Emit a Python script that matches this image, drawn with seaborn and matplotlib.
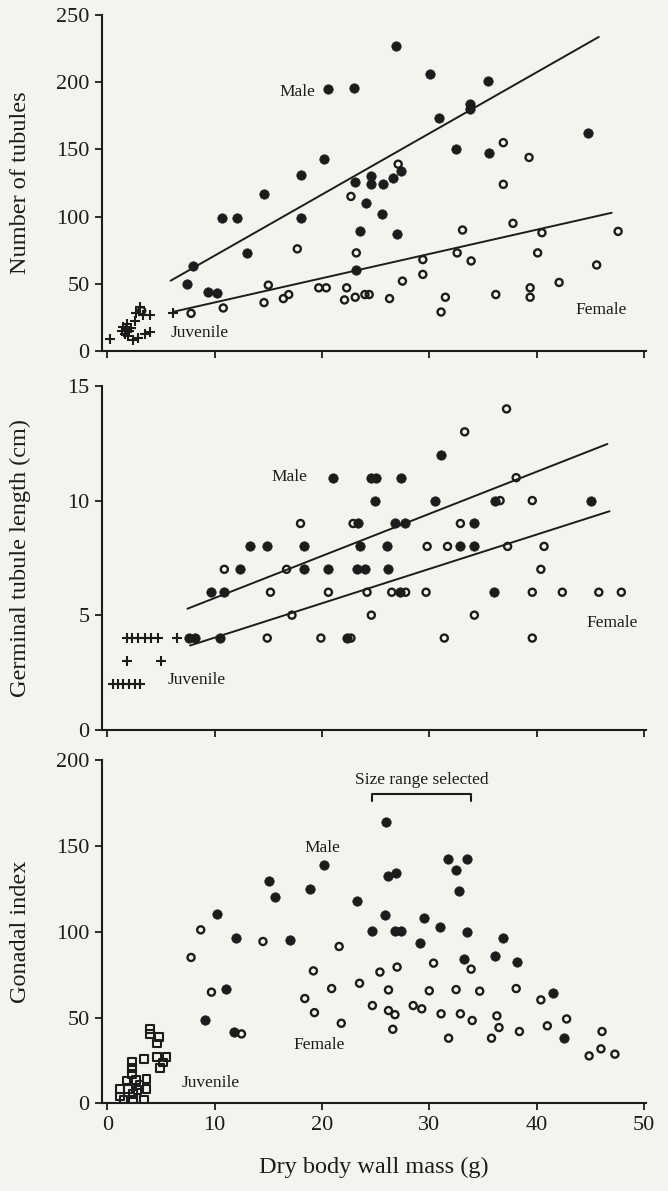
import numpy as np
import pandas as pd
import matplotlib
matplotlib.use("Agg")
import matplotlib.pyplot as plt
import seaborn as sns

# ---------------- data ----------------
# Panel A: number of tubules
tub_male_x = [20.6, 23.0, 20.2, 18.0, 14.6, 10.7, 12.1, 18.0, 13.0, 8.0, 7.4, 9.4, 10.2, 23.1, 24.6, 24.6,
              25.7, 24.1, 25.6, 23.5, 23.2, 26.9, 30.1, 35.5, 33.8, 33.8, 30.9, 32.5, 35.6, 44.8, 26.6, 27.4, 27.0]
tub_male_y = [195, 196, 143, 131, 117, 99, 99, 99, 73, 63, 50, 44, 43, 126, 130, 124,
              124, 110, 102, 89, 60, 227, 206, 201, 184, 180, 173, 150, 147, 162, 129, 134, 87]
tub_fem_x = [27.1, 36.9, 39.3, 36.9, 22.7, 37.8, 33.1, 40.5, 47.6, 23.2, 29.4, 32.6, 33.9, 40.1, 45.6, 29.4,
             27.5, 42.1, 22.3, 22.1, 23.1, 24.0, 24.4, 26.3, 31.5, 31.1, 36.2, 39.4, 39.4, 17.7, 15.0, 14.6,
             16.4, 16.9, 19.7, 20.4, 10.8, 7.8, 3.2]
tub_fem_y = [139, 155, 144, 124, 115, 95, 90, 88, 89, 73, 68, 73, 67, 73, 64, 57,
             52, 51, 47, 38, 40, 42, 42, 39, 40, 29, 42, 47, 40, 76, 49, 36,
             39, 42, 47, 47, 32, 28, 30]
tub_juv_x = [0.25, 1.5, 1.8, 2.0, 1.6, 1.9, 2.2, 1.7, 1.4, 3.0, 2.7, 3.3, 3.95, 2.54, 3.5, 3.95, 2.9, 2.4, 6.1]
tub_juv_y = [9, 18, 20, 15, 13, 11, 17, 16, 15, 33, 28, 27, 27, 22, 13, 14, 10, 8, 28.5]
tub_fit_slope = [4.546, 1.803]        # male, female
tub_fit_icpt = [25.5, 18.1]
tub_fit_xmin = [5.9, 6.15]
tub_fit_xmax = [45.8, 47.0]

# Panel B: germinal tubule length
len_male_x = [21.0, 24.6, 25.0, 24.9, 13.3, 14.9, 18.3, 23.5, 12.4, 18.3, 20.6, 23.3, 24.0, 9.7, 10.9, 7.6,
              8.2, 10.5, 31.1, 27.4, 30.5, 36.1, 45.1, 23.4, 26.8, 27.7, 34.2, 26.1, 32.9, 34.2, 26.2, 27.3,
              36.0, 22.3]
len_male_y = [11, 11, 11, 10, 8, 8, 8, 8, 7, 7, 7, 7, 7, 6, 6, 4,
              4, 4, 12, 11, 10, 10, 10, 9, 9, 9, 9, 8, 8, 8, 7, 6,
              6, 4]
len_fem_x = [18.0, 22.9, 10.9, 16.7, 15.2, 20.6, 24.2, 24.6, 17.2, 14.9, 19.9, 22.7, 37.2, 33.3, 38.1, 36.6,
             39.6, 32.9, 29.8, 31.7, 37.3, 40.7, 40.4, 26.5, 27.8, 29.7, 39.6, 42.4, 45.8, 47.9, 34.2, 31.4,
             39.6]
len_fem_y = [9, 9, 7, 7, 6, 6, 6, 5, 5, 4, 4, 4, 14, 13, 11, 10,
             10, 9, 8, 8, 8, 8, 7, 6, 6, 6, 6, 6, 6, 6, 5, 4,
             4]
len_juv_x = [1.8, 2.3, 2.9, 3.5, 4.1, 4.7, 6.5, 1.8, 5.0, 0.5, 1.0, 1.5, 2.0, 2.6, 3.0]
len_juv_y = [4, 4, 4, 4, 4, 4, 4, 3, 3, 2, 2, 2, 2, 2, 2]
len_fit_slope = [0.1837, 0.1499]      # male, female
len_fit_icpt = [3.91, 2.52]
len_fit_xmin = [7.46, 7.7]
len_fit_xmax = [46.6, 46.8]

# Panel C: gonadal index
gi_male_x = [20.2, 15.1, 15.6, 18.9, 23.3, 10.2, 12.0, 17.0, 24.7, 11.1, 9.1, 11.8, 26.0, 31.7, 33.5, 32.5,
             26.2, 26.9, 32.8, 25.9, 29.5, 26.8, 27.4, 31.0, 33.5, 36.9, 29.1, 33.2, 36.1, 38.2, 41.5, 42.6]
gi_male_y = [138.8, 129.7, 120.5, 124.8, 117.8, 110.3, 96.3, 95.3, 100.7, 66.7, 48.7, 41.7, 163.6, 142.3, 142.3, 136.1,
             132.2, 134.1, 123.8, 109.8, 107.7, 100.7, 100.7, 102.7, 99.8, 96.6, 93.7, 84.4, 85.6, 82.6, 64.2, 38.2]
gi_fem_x = [8.7, 14.5, 21.6, 7.8, 19.2, 9.7, 20.9, 23.5, 18.4, 24.7, 19.3, 21.8, 12.5, 30.4, 27.0, 33.9,
            25.4, 26.2, 30.0, 32.5, 34.7, 38.1, 40.4, 26.2, 26.8, 28.5, 29.3, 31.1, 32.9, 34.0, 36.3, 36.5,
            38.4, 41.0, 42.8, 26.6, 31.8, 35.8, 46.1, 44.9, 46.0, 47.3]
gi_fem_y = [101.1, 94.3, 91.4, 85.0, 77.2, 64.8, 66.9, 70.0, 61.1, 57.0, 52.9, 46.7, 40.5, 81.7, 79.4, 78.2,
            76.5, 66.1, 65.6, 66.3, 65.4, 66.9, 60.3, 54.1, 51.7, 57.0, 55.1, 52.2, 52.2, 48.3, 51.0, 44.2,
            41.9, 45.2, 49.2, 43.2, 38.0, 38.0, 41.9, 27.7, 31.8, 28.7]
gi_juv_x = [4.0, 3.96, 4.8, 4.6, 3.4, 4.6, 5.5, 5.2, 4.9, 2.3, 2.3, 2.3, 1.8, 2.66, 3.65, 3.0,
            3.65, 1.2, 1.95, 2.4, 1.5, 2.4, 3.4, 1.2, 2.8]
gi_juv_y = [43.2, 40.3, 38.6, 35.0, 25.8, 26.9, 26.9, 23.8, 20.5, 24.0, 20.5, 17.2, 13.3, 13.7, 14.1, 10.8,
            8.3, 8.3, 8.3, 5.5, 2.4, 2.4, 2.4, 4.0, 8.0]
bracket_x = [24.7, 24.7, 33.9, 33.9]
bracket_y = [176, 180, 180, 176]

x_ticks = [0, 10, 20, 30, 40, 50]
tub_ticks = [0, 50, 100, 150, 200, 250]
len_ticks = [0, 5, 10, 15]
gi_ticks = [0, 50, 100, 150, 200]

# ---------------- style ----------------
sns.set_theme(style="ticks")
plt.rcParams["font.family"] = ["Liberation Serif", "DejaVu Serif"]
BG = "#f4f4ef"
INK = "#1c1c1c"

fig = plt.figure(figsize=(6.68, 11.91), dpi=100, facecolor=BG)
L, W = 0.1527, 0.8144
ax1 = fig.add_axes([L, 0.7053, W, 0.2821])
ax2 = fig.add_axes([L, 0.3873, W, 0.2886])
ax3 = fig.add_axes([L, 0.0735, W, 0.2884])

def style_axis(ax, ylim, yticks, ylabel, show_xlabels):
    ax.set_facecolor(BG)
    ax.set_xlim(-0.5, 50.2)
    ax.set_ylim(*ylim)
    ax.set_xticks(x_ticks)
    ax.set_yticks(yticks)
    sns.despine(ax=ax)
    for s in ("left", "bottom"):
        ax.spines[s].set_linewidth(1.5)
        ax.spines[s].set_color(INK)
    ax.tick_params(axis="both", direction="out", length=5, width=1.3, color=INK,
                   labelsize=16, labelcolor=INK, pad=4)
    if not show_xlabels:
        ax.set_xticklabels([])
    ax.set_ylabel(ylabel, fontsize=17.5, color=INK)
    ax.yaxis.set_label_coords(-0.13, 0.5)
    ax.set_xlabel("")

def filled(ax, x, y):
    sns.scatterplot(x=x, y=y, ax=ax, marker="o", s=46, color=INK, edgecolor=INK,
                    linewidth=0.5, zorder=3, legend=False)

def hollow(ax, x, y):
    sns.scatterplot(x=x, y=y, ax=ax, marker="o", s=26, facecolor="none", edgecolor=INK,
                    linewidth=1.7, zorder=3, legend=False)

def crosses(ax, x, y):
    sns.scatterplot(x=x, y=y, ax=ax, marker="+", s=45, color=INK, linewidth=1.5,
                    zorder=3, legend=False)

def squares(ax, x, y):
    sns.scatterplot(x=x, y=y, ax=ax, marker="s", s=30, facecolor="none", edgecolor=INK,
                    linewidth=1.5, zorder=3, legend=False)

def fits(ax, slopes, icpts, xmins, xmaxs):
    for m, b, x0, x1 in zip(slopes, icpts, xmins, xmaxs):
        xs = np.array([x0, x1])
        sns.lineplot(x=xs, y=m * xs + b, ax=ax, color=INK, linewidth=1.4, zorder=2, legend=False)

ann = dict(fontsize=12.5, color=INK, ha="center", va="center")

# Panel A
filled(ax1, tub_male_x, tub_male_y)
hollow(ax1, tub_fem_x, tub_fem_y)
crosses(ax1, tub_juv_x, tub_juv_y)
fits(ax1, tub_fit_slope, tub_fit_icpt, tub_fit_xmin, tub_fit_xmax)
style_axis(ax1, (0, 250), tub_ticks, "Number of tubules", False)
ax1.text(17.7, 193, "Male", **ann)
ax1.text(8.6, 13.5, "Juvenile", **ann)
ax1.text(46.0, 30.5, "Female", **ann)

# Panel B
filled(ax2, len_male_x, len_male_y)
hollow(ax2, len_fem_x, len_fem_y)
crosses(ax2, len_juv_x, len_juv_y)
fits(ax2, len_fit_slope, len_fit_icpt, len_fit_xmin, len_fit_xmax)
style_axis(ax2, (0, 15), len_ticks, "Germinal tubule length (cm)", False)
ax2.text(17.0, 11.05, "Male", **ann)
ax2.text(8.3, 2.15, "Juvenile", **ann)
ax2.text(47.0, 4.65, "Female", **ann)

# Panel C
filled(ax3, gi_male_x, gi_male_y)
hollow(ax3, gi_fem_x, gi_fem_y)
squares(ax3, gi_juv_x, gi_juv_y)
ax3.plot(bracket_x, bracket_y, color=INK, linewidth=1.5)
style_axis(ax3, (0, 200), gi_ticks, "Gonadal index", True)
ax3.set_xlabel("Dry body wall mass (g)", fontsize=17.5, color=INK, labelpad=16)
ax3.text(29.3, 188.5, "Size range selected", **ann)
ax3.text(20.0, 148.5, "Male", **ann)
ax3.text(19.7, 34, "Female", **ann)
ax3.text(9.6, 11.7, "Juvenile", **ann)

fig.savefig("out.png", dpi=100, facecolor=BG)
